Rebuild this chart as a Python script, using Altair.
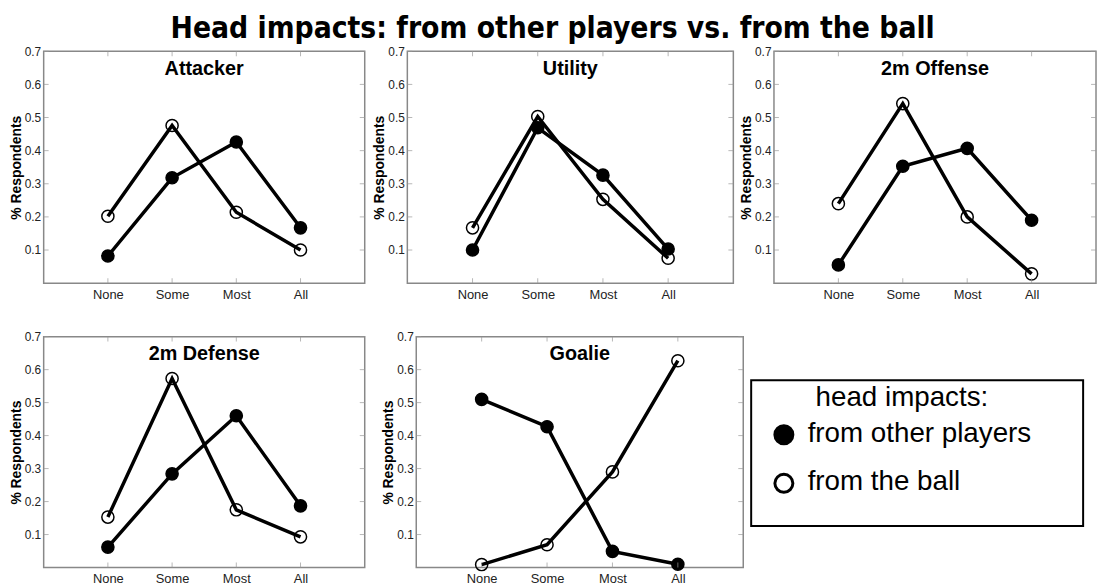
import altair as alt
import pandas as pd

categories = ["None", "Some", "Most", "All"]
series_names = ["from other players", "from the ball"]
panels = ["Attacker", "Utility", "2m Offense", "2m Defense", "Goalie"]

attacker_players = [0.082, 0.318, 0.426, 0.167]
attacker_ball = [0.202, 0.476, 0.214, 0.100]
utility_players = [0.100, 0.469, 0.326, 0.103]
utility_ball = [0.167, 0.503, 0.253, 0.075]
offense_players = [0.055, 0.353, 0.407, 0.190]
offense_ball = [0.240, 0.542, 0.200, 0.028]
defense_players = [0.062, 0.284, 0.460, 0.187]
defense_ball = [0.153, 0.573, 0.175, 0.093]
goalie_players = [0.510, 0.427, 0.049, 0.010]
goalie_ball = [0.009, 0.069, 0.290, 0.627]

y_ticks = [0.1, 0.2, 0.3, 0.4, 0.5, 0.6, 0.7]

panel_values = {
    "Attacker": (attacker_players, attacker_ball),
    "Utility": (utility_players, utility_ball),
    "2m Offense": (offense_players, offense_ball),
    "2m Defense": (defense_players, defense_ball),
    "Goalie": (goalie_players, goalie_ball),
}

rows = []
for p in panels:
    for s, vals in zip(series_names, panel_values[p]):
        for c, v in zip(categories, vals):
            rows.append({"panel": p, "series": s, "category": c, "value": v})
df = pd.DataFrame(rows)
ytick_df = pd.DataFrame({"value": y_ticks})
xtick_df = pd.DataFrame({"category": categories})

LABEL_FONT = "Liberation Sans"
BOLD_FONT = "Liberation Sans"
TITLE_FONT = "DejaVu Sans Condensed, Roboto, Liberation Sans"
TICK_COLOR = "#999"

x_enc = alt.X(
    "category:N",
    sort=categories,
    scale=alt.Scale(type="point", padding=1, domain=categories),
    axis=alt.Axis(title=None, labelAngle=0, ticks=False, domain=False,
                  labelPadding=5, labelFont=LABEL_FONT, labelFontSize=13,
                  labelColor="#222"),
)
y_enc = alt.Y(
    "value:Q",
    scale=alt.Scale(domain=[0, 0.7], nice=False),
    axis=alt.Axis(values=y_ticks, format=".1f", title="% Respondents",
                  ticks=False, domain=False, grid=False, labelOverlap=False,
                  labelFont=LABEL_FONT, labelFontSize=12, labelColor="#222",
                  labelPadding=3, titleFont=BOLD_FONT, titleFontSize=14,
                  titleFontWeight="bold", titlePadding=1, titleColor="black"),
)


def panel(name, w, h):
    base = alt.Chart(df).transform_filter(alt.datum.panel == name).encode(x=x_enc, y=y_enc)
    lines = base.mark_line(color="black", strokeWidth=3.5).encode(detail="series:N")
    pts = base.mark_point(filled=True, size=150, stroke="black", strokeWidth=1.5,
                          opacity=1).encode(
        fill=alt.Fill("series:N",
                      scale=alt.Scale(domain=series_names, range=["black", "transparent"]),
                      legend=None)
    )
    yt = alt.Chart(ytick_df)
    left_ticks = yt.mark_tick(orient="horizontal", size=5, thickness=1,
                              color=TICK_COLOR).encode(y=y_enc, x=alt.value(2.5))
    right_ticks = yt.mark_tick(orient="horizontal", size=5, thickness=1,
                               color=TICK_COLOR).encode(y=y_enc, x=alt.value(w - 2.5))
    xt = alt.Chart(xtick_df)
    top_ticks = xt.mark_tick(orient="vertical", size=5, thickness=1,
                             color=TICK_COLOR).encode(x=x_enc, y=alt.value(2.5))
    bottom_ticks = xt.mark_tick(orient="vertical", size=5, thickness=1,
                                color=TICK_COLOR).encode(x=x_enc, y=alt.value(h - 2.5))
    title = alt.Chart(pd.DataFrame({"t": [name]})).mark_text(
        font=BOLD_FONT, fontWeight="bold", fontSize=20, baseline="alphabetic",
        align="center", color="black"
    ).encode(text="t:N", x=alt.value(w / 2), y=alt.value(24))
    return alt.layer(lines, pts, left_ticks, right_ticks, top_ticks, bottom_ticks,
                     title).properties(width=w, height=h)


legend_df = pd.DataFrame({"label": series_names})
leg_box = alt.Chart(pd.DataFrame({"a": [0]})).mark_rect(
    fill="white", stroke="black", strokeWidth=2
).encode(x=alt.value(0), x2=alt.value(335), y=alt.value(44), y2=alt.value(191))
leg_title = alt.Chart(pd.DataFrame({"t": ["head impacts:"]})).mark_text(
    align="left", baseline="alphabetic", font=BOLD_FONT, fontSize=28, color="black"
).encode(text="t:N", x=alt.value(65), y=alt.value(70))
leg_y = alt.Y("label:N", sort=series_names,
              scale=alt.Scale(type="point", domain=series_names, range=[99, 148], padding=0),
              axis=None)
leg_text = alt.Chart(legend_df).mark_text(
    align="left", baseline="alphabetic", dy=7, font=BOLD_FONT, fontSize=28, color="black"
).encode(text="label:N", x=alt.value(57), y=leg_y)
leg_pts = alt.Chart(legend_df).mark_point(
    filled=True, size=330, stroke="black", strokeWidth=3, opacity=1
).encode(
    x=alt.value(33), y=leg_y,
    fill=alt.Fill("label:N",
                  scale=alt.Scale(domain=series_names, range=["black", "transparent"]),
                  legend=None),
)
legend_view = alt.layer(leg_box, leg_title, leg_text, leg_pts).properties(
    width=335, height=191, view=alt.ViewBackground(stroke="transparent")
)

row1 = alt.hconcat(
    panel("Attacker", 324, 234),
    alt.hconcat(panel("Utility", 329, 234), panel("2m Offense", 325, 234),
                spacing=41, bounds="flush"),
    spacing=43, bounds="flush",
)
row2 = alt.hconcat(
    panel("2m Defense", 324, 233),
    alt.hconcat(panel("Goalie", 330, 233), legend_view, spacing=8, bounds="flush"),
    spacing=52, bounds="flush",
)

chart = alt.vconcat(row1, row2, spacing=28).properties(
    title=alt.TitleParams("Head impacts: from other players vs. from the ball",
                          font=TITLE_FONT, fontWeight="bold", fontSize=30,
                          anchor="middle", color="black", offset=1),
    padding={"left": 0, "top": 3, "right": 0, "bottom": 0},
).configure_view(stroke="#888", strokeWidth=1.5)

chart.save("out.html", embed_options={"renderer": "svg", "actions": False})
